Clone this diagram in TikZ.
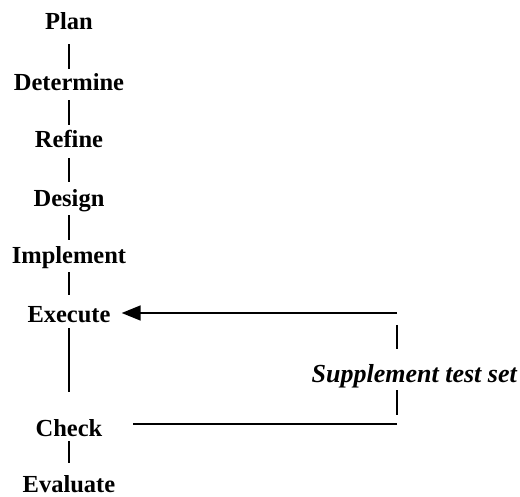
\documentclass[tikz,border=0pt]{standalone}
\usepackage{fontspec}
\setmainfont{Liberation Serif}
\usetikzlibrary{arrows.meta, calc}

\begin{document}
\begin{tikzpicture}[x=1pt, y=-1pt,
  stage/.style={font=\bfseries\fontsize{24.5}{28}\selectfont, anchor=base, inner sep=0pt, text height=17pt, text depth=5pt},
  note/.style={font=\bfseries\itshape\fontsize{26}{30}\selectfont, anchor=base east, inner sep=0pt, text height=17pt, text depth=5pt},
  link/.style={line width=1.8pt}]
\useasboundingbox (0,0) rectangle (520,497);
\path
(69,30) node[stage] (plan) {Plan};
\path
(69,91) node[stage] (determine) {Determine};
\path
(69,148) node[stage] (refine) {Refine};
\path
(69,207) node[stage] (design) {Design};
\path
(69,264) node[stage] (implement) {Implement};
\path
(69,323) node[stage] (execute) {Execute};
\path
(69,436) node[stage] (check) {Check};
\path
(69,492) node[stage] (evaluate) {Evaluate};
\path
(517,382) node[note] (supp) {Supplement test set};
\coordinate (tr) at (397,313);
\coordinate (br) at (397,424);
% main chain
\foreach \a/\b/\s/\t in {plan/determine/9/5, determine/refine/4/6, refine/design/5/8, design/implement/3/7, implement/execute/3/11, execute/check/0/27, check/evaluate/0/12}
  \draw[link, shorten <=\s pt, shorten >=\t pt] (\a.south) -- (\b.north);
% loop back
\draw[link, shorten >=30pt] (br) -- (br -| check.east);
\draw[link, shorten <=3pt, shorten >=9pt] (br |- supp.south) -- (br);
\draw[link, shorten <=12pt, shorten >=16pt] (tr) -- (tr |- supp.north);
\draw[link, shorten >=11pt, -{Triangle[length=19pt, width=15pt]}] (tr) -- (tr -| execute.east);
\end{tikzpicture}
\end{document}
